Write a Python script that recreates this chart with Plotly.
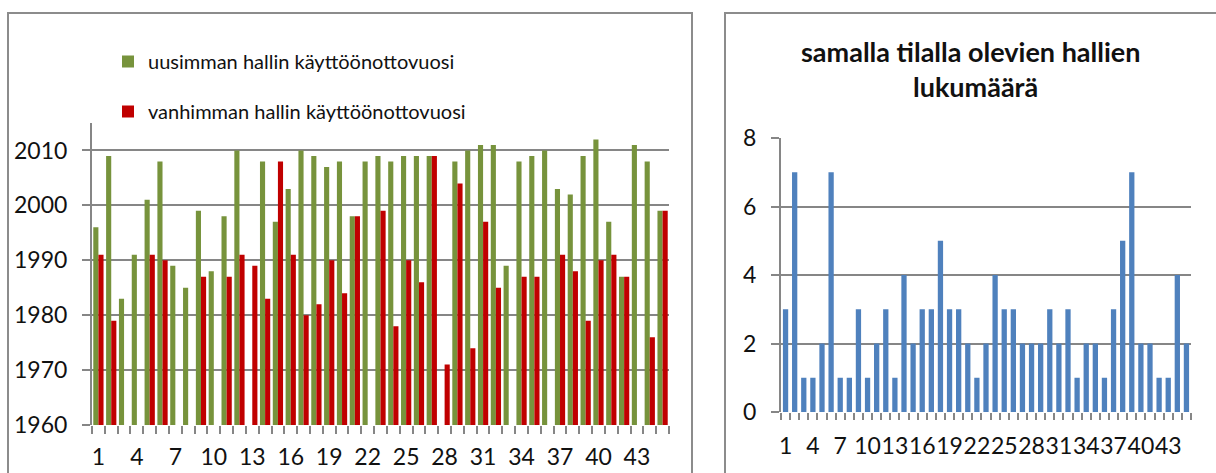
import plotly.graph_objects as go

categories = list(range(1, 46))
newest_year = [1996, 2009, 1983, 1991, 2001, 2008, 1989, 1985, 1999, 1988,
               1998, 2010, None, 2008, 1997, 2003, 2010, 2009, 2007, 2008,
               1998, 2008, 2009, 2008, 2009, 2009, 2009, None, 2008, 2010,
               2011, 2011, 1989, 2008, 2009, 2010, 2003, 2002, 2009, 2012,
               1997, 1987, 2011, 2008, 1999]
oldest_year = [1991, 1979, None, None, 1991, 1990, None, None, 1987, None,
               1987, 1991, 1989, 1983, 2008, 1991, 1980, 1982, 1990, 1984,
               1998, None, 1999, 1978, 1990, 1986, 2009, 1971, 2004, 1974,
               1997, 1985, None, 1987, 1987, None, 1991, 1988, 1979, 1990,
               1991, 1987, None, 1976, 1999]
hall_count = [3, 7, 1, 1, 2, 7, 1, 1, 3, 1,
              2, 3, 1, 4, 2, 3, 3, 5, 3, 3,
              2, 1, 2, 4, 3, 3, 2, 2, 2, 3,
              2, 3, 1, 2, 2, 1, 3, 5, 7, 2,
              2, 1, 1, 4, 2]
x_tick_labels = [1, 4, 7, 10, 13, 16, 19, 22, 25, 28, 31, 34, 37, 40, 43]
left_y_ticks = [1960, 1970, 1980, 1990, 2000, 2010]
right_y_ticks = [0, 2, 4, 6, 8]

W, H = 1216, 473
def px(x): return x / W
def py(y): return 1 - y / H

FONT = "Lato, Open Sans, sans-serif"
GRID = "#868686"
TXT = "#111111"

fig = go.Figure()
fig.add_trace(go.Bar(x=categories, y=newest_year, name="uusimman hallin käyttöönottovuosi",
                     marker=dict(color="#77933C", line=dict(width=0)),
                     xaxis="x", yaxis="y", legendgroup="a"))
fig.add_trace(go.Bar(x=categories, y=oldest_year, name="vanhimman hallin käyttöönottovuosi",
                     marker=dict(color="#C00000", line=dict(width=0)),
                     xaxis="x", yaxis="y", legendgroup="b"))
fig.add_trace(go.Bar(x=categories, y=hall_count, showlegend=False,
                     marker=dict(color="#4F81BD", line=dict(width=0)),
                     xaxis="x2", yaxis="y2", width=0.58))

axis_font = dict(family=FONT, size=23, color=TXT)
minor_ticks = [i + 0.5 for i in range(0, 46)]
fig.update_layout(
    width=W, height=H,
    margin=dict(l=0, r=0, t=0, b=0, autoexpand=False),
    paper_bgcolor="white", plot_bgcolor="white",
    barmode="group", bargap=0.2, bargroupgap=0,
    font=dict(family=FONT, color=TXT),
    showlegend=True,
    legend=dict(x=px(108), y=py(42), xanchor="left", yanchor="top",
                font=dict(family=FONT, size=20, color=TXT),
                tracegroupgap=21, traceorder="grouped", bgcolor="rgba(0,0,0,0)"),
    xaxis=dict(domain=[px(92), px(669)], range=[0.5, 45.5], tickmode="array",
               tickvals=x_tick_labels, ticks="", showgrid=False, zeroline=False,
               showline=False, tickfont=axis_font, tickangle=0, automargin=False,
               ticklabelstandoff=16,
               minor=dict(tickmode="array", tickvals=minor_ticks,
                          ticks="outside", ticklen=8, tickcolor=GRID, tickwidth=2, showgrid=False)),
    yaxis=dict(domain=[py(425), py(123)], range=[1960, 2015], tickmode="array",
               tickvals=left_y_ticks, ticks="outside", ticklen=8, tickcolor=GRID, tickwidth=2,
               showgrid=True, gridcolor=GRID, gridwidth=2, showline=True, linecolor=GRID,
               linewidth=2, zeroline=False, tickfont=axis_font, automargin=False,
               ticklabelstandoff=10),
    xaxis2=dict(domain=[px(781), px(1191)], range=[0.5, 45.5], tickmode="array",
                tickvals=x_tick_labels, ticks="", showgrid=False, zeroline=False,
                showline=False, tickfont=axis_font, anchor="y2", tickangle=0, automargin=False,
                ticklabelstandoff=18,
                minor=dict(tickmode="array", tickvals=minor_ticks,
                           ticks="outside", ticklen=7, tickcolor=GRID, tickwidth=2, showgrid=False)),
    yaxis2=dict(domain=[py(412), py(138)], range=[0, 8], tickmode="array",
                tickvals=right_y_ticks, ticks="outside", ticklen=8, tickcolor=GRID, tickwidth=2,
                showgrid=True, gridcolor=GRID, gridwidth=2, showline=True, linecolor=GRID,
                linewidth=2, zeroline=False, tickfont=axis_font, anchor="x2", automargin=False,
                ticklabelstandoff=10),
)

# chart frames
fig.add_shape(type="rect", xref="paper", yref="paper", x0=px(8), x1=px(692), y0=py(480), y1=py(13),
              line=dict(color="#8c8c8c", width=2), layer="below")
fig.add_shape(type="rect", xref="paper", yref="paper", x0=px(725), x1=px(1222), y0=py(480), y1=py(13),
              line=dict(color="#8c8c8c", width=2), layer="below")

title_font = dict(family=FONT, size=27, color=TXT)
fig.add_annotation(xref="paper", yref="paper", x=px(971), y=py(51), xanchor="center", yanchor="middle",
                   text="<b>samalla tilalla olevien hallien</b>", showarrow=False, font=title_font)
fig.add_annotation(xref="paper", yref="paper", x=px(975), y=py(87), xanchor="center", yanchor="middle",
                   text="<b>lukumäärä</b>", showarrow=False, font=title_font)

fig.write_html("out.html")
